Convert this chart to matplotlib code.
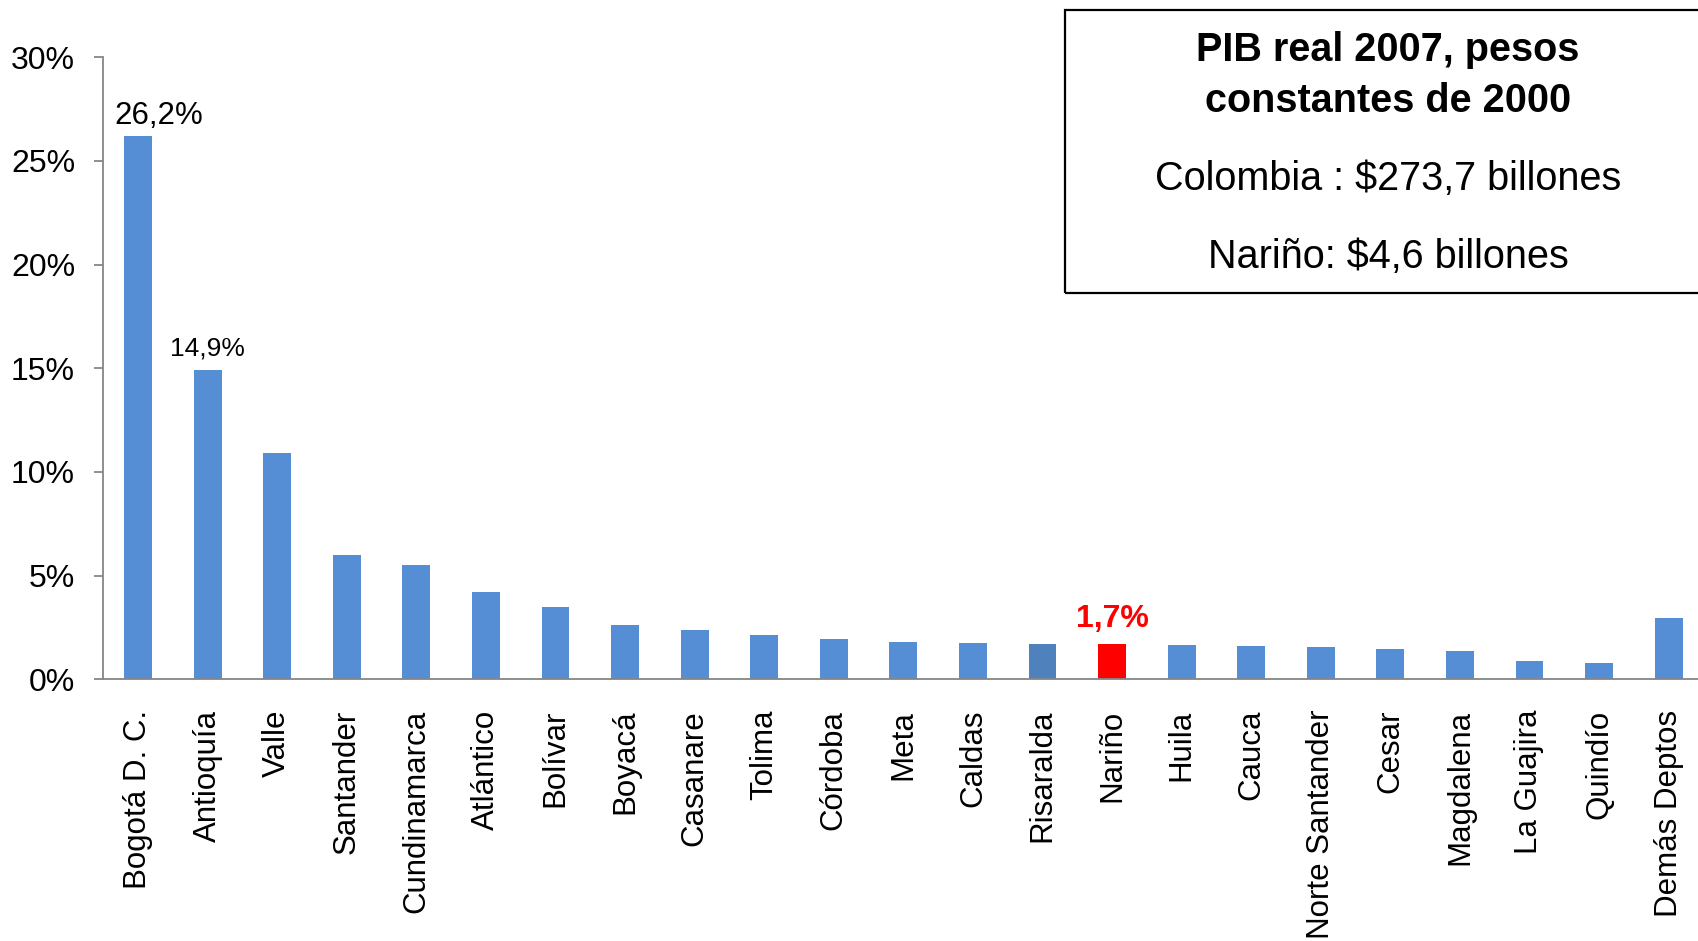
import matplotlib
matplotlib.use("Agg")
import matplotlib.pyplot as plt
from matplotlib.patches import Rectangle
from matplotlib.ticker import FuncFormatter

plt.rcParams['font.family'] = ['Liberation Sans', 'DejaVu Sans']

# participacion en el PIB real 2007 (%)
deptos = ['Bogotá D. C.', 'Antioquía', 'Valle', 'Santander', 'Cundinamarca',
          'Atlántico', 'Bolívar', 'Boyacá', 'Casanare', 'Tolima', 'Córdoba',
          'Meta', 'Caldas', 'Risaralda', 'Nariño', 'Huila', 'Cauca',
          'Norte Santander', 'Cesar', 'Magdalena', 'La Guajira', 'Quindío',
          'Demás Deptos']
share = [26.2, 14.9, 10.9, 6.0, 5.5, 4.2, 3.5, 2.6, 2.4, 2.15, 1.95, 1.8,
         1.77, 1.72, 1.7, 1.67, 1.62, 1.54, 1.48, 1.37, 0.88, 0.8, 2.96]
yticks = [0, 5, 10, 15, 20, 25, 30]

blue = '#558ED5'
colors = [blue] * len(deptos)
colors[deptos.index('Risaralda')] = '#4F81BD'
colors[deptos.index('Nariño')] = '#FF0000'

fig = plt.figure(figsize=(16.98, 9.41), dpi=100)
ax = fig.add_axes([0.0608, 0.2781, 0.9424, 0.6610])

x = list(range(len(deptos)))
ax.bar(x, share, width=0.40, color=colors)

ax.set_xlim(-0.5, len(deptos) - 0.5)
ax.set_ylim(0, 30)
ax.set_yticks(yticks)
ax.yaxis.set_major_formatter(FuncFormatter(lambda v, p: '%d%%' % v))
ax.set_xticks(x)
ax.set_xticklabels(deptos, rotation=90, fontsize=22.5)

for s in ['top', 'right']:
    ax.spines[s].set_visible(False)
for s in ['left', 'bottom']:
    ax.spines[s].set_color('#868686')
    ax.spines[s].set_linewidth(1.3)
ax.tick_params(axis='y', direction='out', length=6.8, width=1.3,
               color='#868686', labelsize=23, pad=13.5)
ax.tick_params(axis='x', length=0, pad=22)

# etiquetas de datos
i = deptos.index('Bogotá D. C.')
ax.annotate('26,2%', (x[i], share[i]), xytext=(15, 9), textcoords='offset points',
            ha='center', va='baseline', fontsize=22.5)
i = deptos.index('Antioquía')
ax.annotate('14,9%', (x[i], share[i]), xytext=(0, 11), textcoords='offset points',
            ha='center', va='baseline', fontsize=19)
i = deptos.index('Nariño')
ax.annotate('1,7%', (x[i], share[i]), xytext=(0, 12), textcoords='offset points',
            ha='center', va='baseline', fontsize=23, fontweight='bold', color='#FF0000')

# recuadro
fig.patches.append(Rectangle((0.627, 0.689), 0.45, 0.3004, transform=fig.transFigure,
                             fill=False, edgecolor='black', linewidth=1.6))
cx = 1388 / 1698
fig.text(cx, 0.9352, 'PIB real 2007, pesos', ha='center', va='baseline',
         fontsize=28.5, fontweight='bold')
fig.text(cx, 0.8813, 'constantes de 2000', ha='center', va='baseline',
         fontsize=28.5, fontweight='bold')
fig.text(cx, 0.7981, 'Colombia : $273,7 billones', ha='center', va='baseline',
         fontsize=28.5)
fig.text(cx, 0.7152, 'Nariño: $4,6 billones', ha='center', va='baseline',
         fontsize=28.5)

fig.savefig('out.png', dpi=100)
